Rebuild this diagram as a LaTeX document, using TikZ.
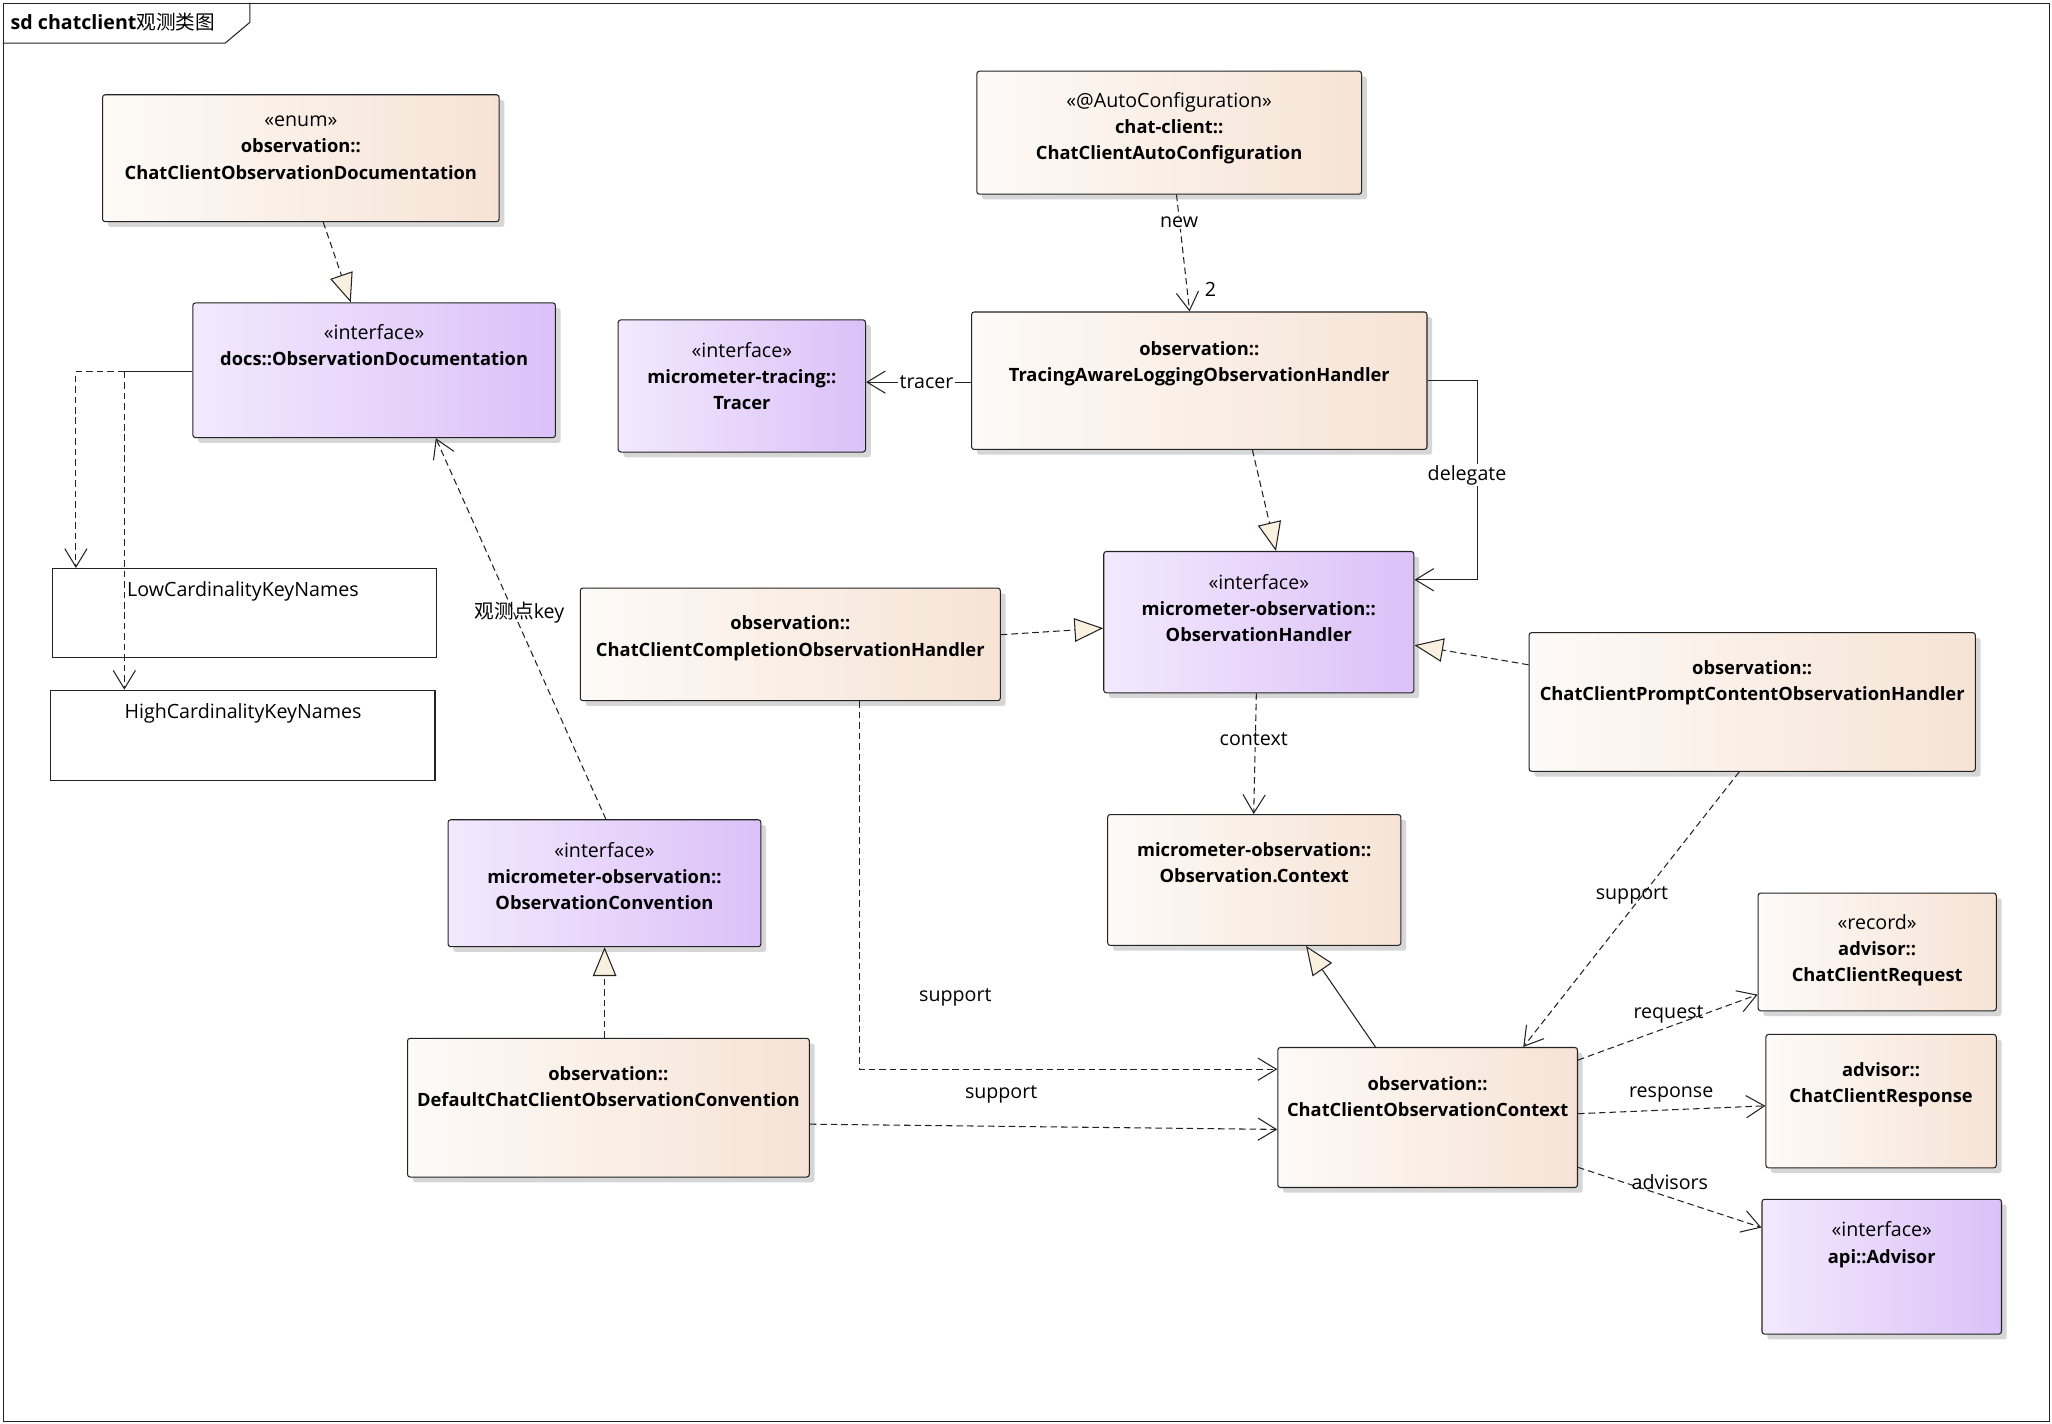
\documentclass[tikz,border=0pt]{standalone}
\usepackage{fontspec}
\setmainfont{Open Sans}
\newfontfamily\cjk{Noto Sans CJK SC}
\usetikzlibrary{arrows.meta,shadows}
\definecolor{peachL}{RGB}{253,250,247}
\definecolor{peachR}{RGB}{246,227,213}
\definecolor{purpL}{RGB}{243,233,253}
\definecolor{purpR}{RGB}{219,193,248}
\definecolor{cream}{RGB}{250,240,224}
\definecolor{edge}{RGB}{35,35,35}
\newcommand\stereo[1]{{\fontsize{15}{20}\selectfont #1}}
\tikzset{
 cls/.style={draw=edge, line width=0.8pt, rounded corners=2pt, anchor=north west, inner sep=0pt,
   drop shadow={shadow xshift=4pt, shadow yshift=-4pt, fill=black!16, opacity=1}},
 peach/.style={cls, left color=peachL, right color=peachR},
 purp/.style={cls, left color=purpL, right color=purpR},
 plainbox/.style={draw=edge, line width=0.8pt, anchor=north west, inner sep=0pt, fill=white},
 ctext/.style={anchor=north, align=center, inner sep=0pt, font=\fontsize{14}{20}\selectfont, execute at begin node=\strut},
 lbl/.style={inner sep=1pt, font=\fontsize{15}{17}\selectfont},
 wlbl/.style={lbl, fill=white},
 dep/.style={line width=0.8pt, dash pattern=on 5pt off 3pt, draw=edge},
 assoc/.style={line width=0.8pt, draw=edge},
 openarr/.style={-{Straight Barb[length=14pt,width=17pt,line width=0.8pt]}},
 realarr/.style={-{Triangle[length=22pt,width=18pt,fill=cream,line width=0.8pt]}},
}
\begin{document}
\begin{tikzpicture}[x=1pt,y=-1pt]
\fill[white] (0,0) rectangle (1568,1088);
\useasboundingbox (0,0) rectangle (1568,1088);
% frame
\node[draw=edge, line width=0.8pt, anchor=north west, minimum width=1564pt, minimum height=1084pt, inner sep=0pt] (frame) at (2,2) {};
\draw[edge, line width=0.8pt] (2,33) -- (172,33) -- (191,17) -- (191,2);
\node[anchor=west, inner sep=0pt, font=\fontsize{15}{17}\selectfont] (title) at (8,17) {\textbf{sd chatclient}{\cjk 观测类图}};

% boxes
\node[peach, minimum width=303pt, minimum height=97pt] (enumDoc) at (78,72) {};
\node[ctext] (enumDocT) at ([yshift=-16.5pt]enumDoc.north) {\stereo{«enum»}\\\textbf{observation::}\\\textbf{ChatClientObservationDocumentation}};

\node[purp, minimum width=277pt, minimum height=103pt] (obsDoc) at (147,231) {};
\node[ctext] (obsDocT) at ([yshift=-16.5pt]obsDoc.north) {\stereo{«interface»}\\\textbf{docs::ObservationDocumentation}};

\node[plainbox, minimum width=293pt, minimum height=68pt] (lowKey) at (40,434) {};
\node[anchor=west, inner sep=0pt, font=\fontsize{15}{17}\selectfont] (lowKeyT) at (97,452) {LowCardinalityKeyNames};
\node[plainbox, minimum width=294pt, minimum height=69pt] (highKey) at (38,527) {};
\node[anchor=west, inner sep=0pt, font=\fontsize{15}{17}\selectfont] (highKeyT) at (95,545) {HighCardinalityKeyNames};

\node[peach, minimum width=294pt, minimum height=94pt] (autoConf) at (746,54) {};
\node[ctext] (autoConfT) at ([yshift=-16.5pt]autoConf.north) {\stereo{«@AutoConfiguration»}\\\textbf{chat-client::}\\\textbf{ChatClientAutoConfiguration}};

\node[purp, minimum width=189pt, minimum height=101pt] (tracer) at (472,244) {};
\node[ctext] (tracerT) at ([yshift=-17.5pt]tracer.north) {\stereo{«interface»}\\\textbf{micrometer-tracing::}\\\textbf{Tracer}};

\node[peach, minimum width=348pt, minimum height=105pt] (tracing) at (742,238) {};
\node[ctext] (tracingT) at ([yshift=-22.5pt]tracing.north) {\textbf{observation::}\\\textbf{TracingAwareLoggingObservationHandler}};

\node[purp, minimum width=237pt, minimum height=108pt] (obsHandler) at (843,421) {};
\node[ctext] (obsHandlerT) at ([yshift=-17.5pt]obsHandler.north) {\stereo{«interface»}\\\textbf{micrometer-observation::}\\\textbf{ObservationHandler}};

\node[peach, minimum width=321pt, minimum height=86pt] (completion) at (443,449) {};
\node[ctext] (completionT) at ([yshift=-21.5pt]completion.north) {\textbf{observation::}\\\textbf{ChatClientCompletionObservationHandler}};

\node[peach, minimum width=341pt, minimum height=106pt] (prompt) at (1168,483) {};
\node[ctext] (promptT) at ([yshift=-21.5pt]prompt.north) {\textbf{observation::}\\\textbf{ChatClientPromptContentObservationHandler}};

\node[peach, minimum width=224pt, minimum height=100pt] (obsContext) at (846,622) {};
\node[ctext] (obsContextT) at ([yshift=-21.5pt]obsContext.north) {\textbf{micrometer-observation::}\\\textbf{Observation.Context}};

\node[purp, minimum width=239pt, minimum height=97pt] (convention) at (342,626) {};
\node[ctext] (conventionT) at ([yshift=-17.5pt]convention.north) {\stereo{«interface»}\\\textbf{micrometer-observation::}\\\textbf{ObservationConvention}};

\node[peach, minimum width=307pt, minimum height=106pt] (defaultConv) at (311,793) {};
\node[ctext] (defaultConvT) at ([yshift=-21.5pt]defaultConv.north) {\textbf{observation::}\\\textbf{DefaultChatClientObservationConvention}};

\node[peach, minimum width=229pt, minimum height=107pt] (ccContext) at (976,800) {};
\node[ctext] (ccContextT) at ([yshift=-22.5pt]ccContext.north) {\textbf{observation::}\\\textbf{ChatClientObservationContext}};

\node[peach, minimum width=182pt, minimum height=90pt] (request) at (1343,682) {};
\node[ctext] (requestT) at ([yshift=-16.5pt]request.north) {\stereo{«record»}\\\textbf{advisor::}\\\textbf{ChatClientRequest}};

\node[peach, minimum width=176pt, minimum height=102pt] (response) at (1349,790) {};
\node[ctext] (responseT) at ([yshift=-21.5pt]response.north) {\textbf{advisor::}\\\textbf{ChatClientResponse}};

\node[purp, minimum width=183pt, minimum height=103pt] (advisor) at (1346,916) {};
\node[ctext] (advisorT) at ([yshift=-17.5pt]advisor.north) {\stereo{«interface»}\\\textbf{api::Advisor}};

% connectors
\draw[dep, realarr] (enumDoc.south -| 247,0) -- (obsDoc.north -| 268,0);

\coordinate (kb1) at (95,284);
\coordinate (kb2) at (58,284);
\draw[assoc] (obsDoc.west |- kb1) -- (kb1);
\draw[dep, openarr] (kb1) -- (kb2) -- (lowKey.north -| kb2);
\draw[dep, openarr] (kb1) -- (highKey.north -| kb1);

\draw[dep, openarr] (autoConf.south -| 899,0) -- (tracing.north -| 909,0);
\node[wlbl] (newL) at (901,170) {new};
\node[lbl] (mult2) at (925,221) {2};

\draw[assoc, openarr] (tracing.west |- 0,292) -- (tracer.east |- 0,292);
\node[wlbl] (tracerL) at (708,292) {tracer};

\draw[dep, realarr] (tracing.south -| 957,0) -- (obsHandler.north -| 975,0);

\coordinate (dg1) at (1129,291);
\coordinate (dg2) at (1129,443);
\draw[assoc, openarr] (tracing.east |- dg1) -- (dg1) -- (dg2) -- (obsHandler.east |- dg2);
\node[wlbl] (delegL) at (1121,363) {delegate};

\draw[dep, realarr] (completion.east |- 0,485) -- (obsHandler.west |- 0,480);
\draw[dep, realarr] (prompt.west |- 0,508) -- (obsHandler.east |- 0,493);

\draw[dep, openarr] (obsHandler.south -| 960,0) -- (obsContext.north -| 958,0);
\node[wlbl] (ctxL) at (958,565) {context};

\draw[assoc, realarr] (ccContext.north -| 1051,0) -- (obsContext.south -| 998,0);

\draw[dep, openarr] (convention.north -| 463,0) -- (obsDoc.south -| 333,0);
\node[lbl] (keyL) at (397,468) {{\cjk 观测点}key};

\draw[dep, realarr] (defaultConv.north -| 462,0) -- (convention.south -| 462,0);

\coordinate (sp1) at (657,817);
\draw[dep, openarr] (completion.south -| sp1) -- (sp1) -- (ccContext.west |- sp1);
\node[lbl] (supL1) at (730,762) {support};

\draw[dep, openarr] (defaultConv.east |- 0,859) -- (ccContext.west |- 0,863);
\node[lbl] (supL2) at (765,836) {support};

\draw[dep, openarr] (prompt.south -| 1329,0) -- (ccContext.north -| 1164,0);
\node[lbl] (supL3) at (1247,684) {support};

\draw[dep, openarr] (ccContext.east |- 0,810) -- (request.west |- 0,760);
\node[lbl] (reqL) at (1275,775) {request};

\draw[dep, openarr] (ccContext.east |- 0,851) -- (response.west |- 0,845);
\node[lbl] (respL) at (1277,836) {response};

\draw[dep, openarr] (ccContext.east |- 0,892) -- (advisor.west |- 0,938);
\node[lbl] (advL) at (1276,903) {advisors};
\end{tikzpicture}
\end{document}
